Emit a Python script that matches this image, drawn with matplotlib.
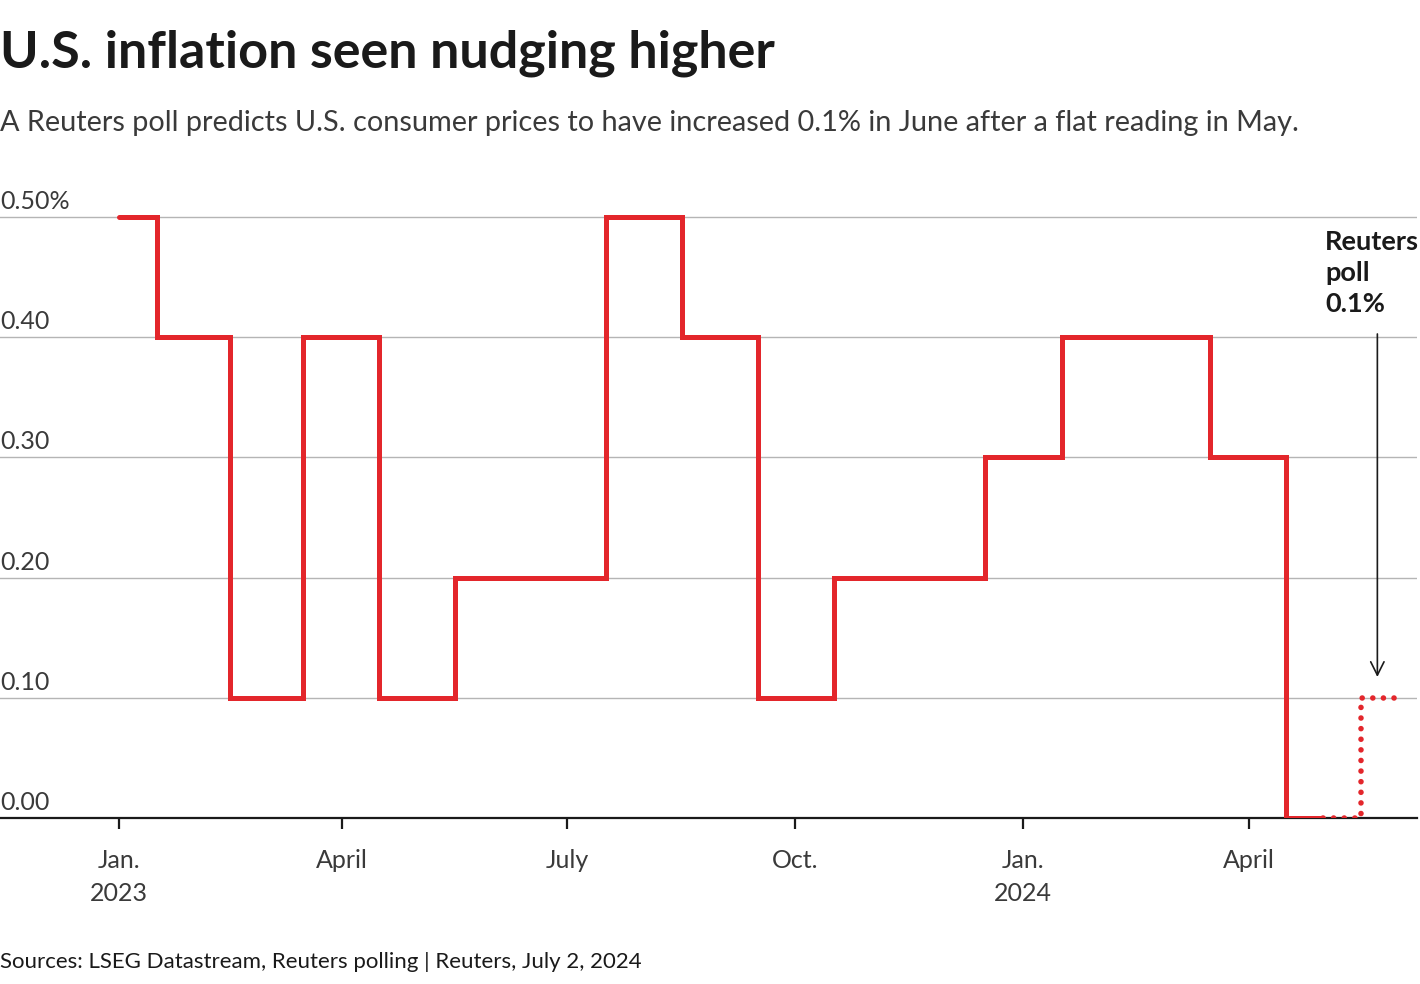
import matplotlib
matplotlib.use("Agg")
import matplotlib.pyplot as plt
import matplotlib.transforms as mtransforms
import numpy as np

months = np.arange(np.datetime64("2023-01"), np.datetime64("2024-06"), np.timedelta64(1, "M")).astype("datetime64[D]")
cpi = [0.5, 0.4, 0.1, 0.4, 0.1, 0.2, 0.2, 0.5, 0.4, 0.1, 0.2, 0.2,
       0.3, 0.4, 0.4, 0.3, 0.0]
poll_months = np.array(["2024-05-01", "2024-06-01"], dtype="datetime64[D]")
poll_vals = [0.0, 0.1]
yticks = [0.0, 0.1, 0.2, 0.3, 0.4, 0.5]
ytick_labels = ["0.00", "0.10", "0.20", "0.30", "0.40", "0.50%"]
xtick_dates = np.array(["2023-01-01", "2023-04-01", "2023-07-01", "2023-10-01",
                        "2024-01-01", "2024-04-01"], dtype="datetime64[D]")
xtick_labels = ["Jan.\n2023", "April", "July", "Oct.", "Jan.\n2024", "April"]

FONT = "Lato"
RED = "#e3262b"
TXT = "#3a3a3a"

fig = plt.figure(figsize=(14.2, 9.84), dpi=100)
h_frac = (818 - 217) / 984
ax = fig.add_axes([0.0, 1 - 818 / 984, 1417 / 1420, h_frac * 0.6 / 0.5])
ax.set_ylim(0, 0.6)

ax.plot(months, cpi, drawstyle="steps-mid", color=RED, lw=3.6,
        solid_capstyle="round", solid_joinstyle="miter", zorder=3)
ax.plot(poll_months, poll_vals, drawstyle="steps-mid", color=RED, lw=4.0,
        linestyle=(0, (0.01, 1.9)), dash_capstyle="round", zorder=4)

x0 = np.datetime64("2022-11-14")
x1 = np.datetime64("2024-06-08")
ax.set_xlim(x0, x1)

for s in ["top", "right", "left"]:
    ax.spines[s].set_visible(False)
ax.spines["bottom"].set_color("#1a1a1a")
ax.spines["bottom"].set_linewidth(1.6)
ax.spines["bottom"].set_zorder(2)

ax.set_yticks(yticks)
ax.set_yticklabels([])
ax.tick_params(axis="y", length=0)
ax.grid(axis="y", color="#b5b5b5", lw=1.0)
ax.set_axisbelow(True)
off = mtransforms.offset_copy(ax.get_yaxis_transform(), fig=fig, x=0, y=4, units="dots")
for v, lab in zip(yticks, ytick_labels):
    ax.text(0.0, v, lab, transform=off, ha="left",
            va="bottom", fontsize=18, family=FONT,
            color=TXT)

ax.set_xticks(xtick_dates)
ax.set_xticklabels(xtick_labels, fontsize=18, family=FONT,
                   color=TXT, linespacing=1.55)
ax.tick_params(axis="x", length=8, width=1.6, color="#1a1a1a", pad=14)

ax.annotate("", xy=(np.datetime64("2024-05-23"), 0.115),
            xytext=(np.datetime64("2024-05-23"), 0.405),
            arrowprops=dict(arrowstyle="->", color="#1a1a1a", lw=1.2,
                            mutation_scale=24))
ax.text(np.datetime64("2024-05-02"), 0.418, "Reuters\npoll\n0.1%",
        fontsize=19.5, family=FONT, fontweight="bold", color="#1a1a1a",
        ha="left", va="bottom", linespacing=1.35)

fig.text(0.0, 1 - 53 / 984, "U.S. inflation seen nudging higher",
         fontsize=37.5, family=FONT, fontweight="bold", color="#1a1a1a",
         ha="left", va="center")
fig.text(0.0, 1 - 123 / 984,
         "A Reuters poll predicts U.S. consumer prices to have increased 0.1% in June after a flat reading in May.",
         fontsize=20.8, family=FONT, color=TXT,
         ha="left", va="center")
fig.text(0.0, 1 - 962 / 984,
         "Sources: LSEG Datastream, Reuters polling | Reuters, July 2, 2024",
         fontsize=16, family=FONT, color="#1a1a1a", ha="left", va="center")

fig.savefig("out.png", dpi=100)
